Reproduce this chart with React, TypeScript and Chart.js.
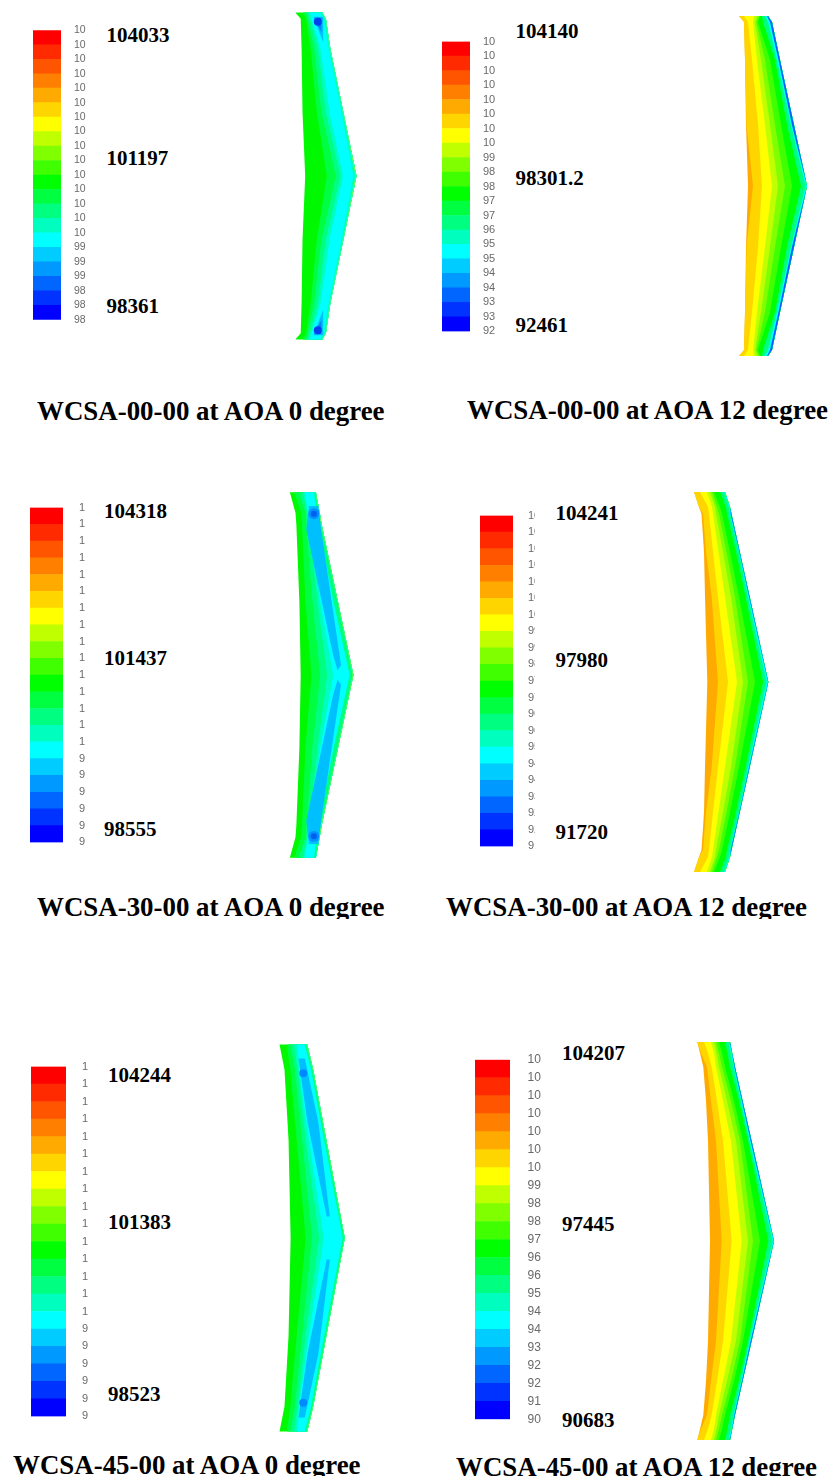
import React, { useEffect, useRef } from "react";
import { Chart, registerables } from "chart.js";

Chart.register(...registerables);

/* ---------- data ---------- */
const CAPTIONS = [
  "WCSA-00-00 at AOA 0 degree",
  "WCSA-00-00 at AOA 12 degree",
  "WCSA-30-00 at AOA 0 degree",
  "WCSA-30-00 at AOA 12 degree",
  "WCSA-45-00 at AOA 0 degree",
  "WCSA-45-00 at AOA 12 degree",
];
const VALUE_LABELS = [
  ["104033", "101197", "98361"],
  ["104140", "98301.2", "92461"],
  ["104318", "101437", "98555"],
  ["104241", "97980", "91720"],
  ["104244", "101383", "98523"],
  ["104207", "97445", "90683"],
];
// pressure level of every colour-bar boundary, low to high
const LEVELS_1 = [98361,98645,98928,99212,99495,99779,100063,100346,100630,100913,101197,101481,101764,102048,102331,102615,102899,103182,103466,103749,104033];
const LEVELS_2 = [92461,93045,93629,94213,94797,95381,95965,96549,97133,97717,98301,98885,99469,100053,100637,101221,101805,102389,102972,103556,104140];
const LEVELS_3 = [98555,98843,99131,99419,99708,99996,100284,100572,100860,101148,101437,101725,102013,102301,102589,102877,103166,103454,103742,104030,104318];
const LEVELS_4 = [91720,92346,92972,93598,94224,94850,95476,96102,96728,97354,97981,98607,99233,99859,100485,101111,101737,102363,102989,103615,104241];
const LEVELS_5 = [98523,98809,99095,99381,99667,99953,100239,100525,100811,101097,101384,101670,101956,102242,102528,102814,103100,103386,103672,103958,104244];
const LEVELS_6 = [90683,91359,92035,92712,93388,94064,94740,95416,96093,96769,97445,98121,98797,99474,100150,100826,101502,102178,102855,103531,104207];
const LEVELS = [LEVELS_1, LEVELS_2, LEVELS_3, LEVELS_4, LEVELS_5, LEVELS_6];
// band colours, low to high
const BAND_COLORS = ["#0000ff","#0033ff","#0066ff","#0099ff","#00ccff","#00ffff","#00ffbf","#00ff80","#00ff40","#00ff00","#40ff00","#80ff00","#bfff00","#ffff00","#ffd500","#ffaa00","#ff8000","#ff5500","#ff2a00","#ff0000"];

/* Wing contours: half-span stations (tip to apex, mirrored in the chart) and, for each
   contour line, its chordwise position at these stations. Last row = trailing outline. */
const WING1_SPAN = [167.5, 161, 130, 65, 0];
const WING1_LINES = [
  [292, 298, 299, 300, 303],
  [300, 304, 309, 316, 327],
  [304, 306, 313, 321, 337],
  [306, 308, 317, 326, 342],
  [308, 310, 320, 330, 345],
  [320, 323.5, 329, 343.5, 356.5],
  [321.5, 325.5, 330.5, 345, 359],
  [322, 326, 331, 345.5, 360],
];
const WING1_COLORS = ["#00f800", "#00ff40", "#00ff80", "#00ffbf", "#00ffff", "#00ffbf", "#80ff40"];
const WING1_PATCHES = [
  { color: "#00bfff", points: [[312, 163], [323, 163], [323, 137]] },
  { color: "#0080ff", points: [[313, 162], [321, 162], [321, 147]] },
];
const WING1_SPOTS = [{ x: 317, d: 158, r: 4, color: "#0040ee" }];

const WING2_SPAN = [170, 164, 126, 61, 0];
const WING2_LINES = [
  [739, 744, 745, 746, 748],
  [739, 744, 745, 746.5, 753],
  [744, 748, 752, 758, 762],
  [754, 753, 757, 765, 772],
  [757, 755, 761, 770, 778],
  [759, 756.5, 765, 775, 785],
  [760, 758, 770, 781, 792],
  [762, 763, 775, 787, 801],
  [765, 768, 777, 791, 805.5],
  [767, 770, 778.5, 792, 807],
  [768, 772, 780, 794, 807],
];
const WING2_COLORS = ["#ffaa00", "#ffd500", "#ffff00", "#bfff00", "#80ff00", "#40ff00", "#00ff00", "#00ff80", "#00ffff", "#0060ff"];

const WING3_SPAN = [188, 167, 155, 75, 0];
const WING3_LINES = [
  [285, 291.5, 292.5, 296, 297.5],
  [290, 298, 299, 303, 310],
  [295, 303, 304, 311, 320],
  [300, 305, 307, 317, 328],
  [302, 306, 309, 320, 335],
  [313, 316, 318, 335.5, 354],
  [314.5, 318.5, 321, 340, 357.5],
  [315, 319.5, 321.7, 340.6, 358.3],
];
const WING3_COLORS = ["#00f800", "#00ff40", "#00ff80", "#00ffbf", "#00ffff", "#00ff80", "#80ff40"];
const WING3_PATCHES = [
  { color: "#00bfff", points: [[307, 174], [318, 174], [321, 150], [344, 10], [340, 5], [335, 20], [304, 150]] },
];
const WING3_SPOTS = [
  { x: 312.7, d: 166, r: 5.5, color: "#0090ff" },
  { x: 312.7, d: 166, r: 3, color: "#0060ee" },
];

const WING4_SPAN = [190, 175, 168, 130, 85, 0];
const WING4_LINES = [
  [694, 699, 701.5, 704, 705, 707.3],
  [694, 699, 703, 706, 711.7, 718],
  [700, 708, 709, 713, 718, 728],
  [707, 712, 713, 718.5, 725, 737],
  [710, 715, 716, 723, 731, 743],
  [712, 717, 719, 726.5, 735, 748],
  [714, 720, 722, 730, 739, 755],
  [720, 726, 727, 736, 745.5, 763],
  [724, 729, 730, 738.8, 748, 766.5],
  [725, 730, 730.6, 739.3, 749, 768],
  [725, 730, 731.5, 739.8, 749.7, 768.3],
];
const WING4_COLORS = ["#ffaa00", "#ffd500", "#ffff00", "#bfff00", "#80ff00", "#40ff00", "#00ff00", "#00ff80", "#00ffff", "#0080ff"];

const WING5_SPAN = [197.5, 185, 172, 140, 100, 0];
const WING5_LINES = [
  [276, 278.7, 281.5, 283.5, 286, 288.3],
  [284, 286, 288, 291, 295, 305],
  [288, 290.5, 293, 296.5, 301, 312],
  [292, 294, 296, 300, 305, 320],
  [296, 296.8, 297.5, 302.5, 308.5, 325],
  [304, 307.5, 311, 317.4, 325.5, 346],
  [306, 309.4, 312.7, 319.2, 327.3, 347.8],
  [306.7, 310, 313.3, 319.8, 327.9, 348.3],
];
const WING5_COLORS = ["#00f800", "#00ff40", "#00ff80", "#00ffbf", "#00ffff", "#00ff80", "#80ff40"];
const WING5_PATCHES = [
  { color: "#00bfff", points: [[297, 183], [304, 183], [319, 118], [331.7, 22], [328.3, 22], [307, 118]] },
];
const WING5_SPOTS = [{ x: 302.3, d: 168, r: 4, color: "#0088ff" }];

const WING6_SPAN = [199, 188, 174, 140, 100, 0];
const WING6_LINES = [
  [697.3, 700, 703.3, 706, 708, 710],
  [697.3, 701, 707, 711, 716, 721.7],
  [704, 708, 711.7, 717, 723, 731.7],
  [711, 714, 716, 723, 731, 741.7],
  [714, 716.5, 719, 727, 736, 748],
  [716, 719, 722, 731, 740, 753],
  [719, 722, 725, 734, 743, 760],
  [725, 727.5, 730, 739, 748, 768.3],
  [728.5, 731, 733.5, 741, 749.5, 772.7],
  [729.5, 732, 734.3, 741.9, 750.6, 773.8],
  [730, 732.2, 735, 742.6, 751.6, 774],
];
const WING6_COLORS = ["#ffaa00", "#ffd500", "#ffff00", "#bfff00", "#80ff00", "#40ff00", "#00ff00", "#00ff80", "#00ffff", "#0070ff"];

const WINGS: any[] = [
  { span: WING1_SPAN, lines: WING1_LINES, colors: WING1_COLORS, patches: WING1_PATCHES, spots: WING1_SPOTS },
  { span: WING2_SPAN, lines: WING2_LINES, colors: WING2_COLORS, patches: [], spots: [] },
  { span: WING3_SPAN, lines: WING3_LINES, colors: WING3_COLORS, patches: WING3_PATCHES, spots: WING3_SPOTS },
  { span: WING4_SPAN, lines: WING4_LINES, colors: WING4_COLORS, patches: [], spots: [] },
  { span: WING5_SPAN, lines: WING5_LINES, colors: WING5_COLORS, patches: WING5_PATCHES, spots: WING5_SPOTS },
  { span: WING6_SPAN, lines: WING6_LINES, colors: WING6_COLORS, patches: [], spots: [] },
];

/* ---------- layout ---------- */
const BAR_LAYOUT = [
  { left: 33, right: 61, top: 20, bottom: 330, labelLeft: 74, clip: 90, font: 10.5 },
  { left: 441.5, right: 469, top: 31, bottom: 341.5, labelLeft: 482, clip: 500, font: 11 },
  { left: 29.5, right: 62.5, top: 493.5, bottom: 855.5, labelLeft: 78.5, clip: 84.5, font: 11 },
  { left: 479.5, right: 512.5, top: 502.5, bottom: 858.5, labelLeft: 527.5, clip: 534.5, font: 11 },
  { left: 31, right: 65.5, top: 1052.5, bottom: 1429.5, labelLeft: 81.5, clip: 87.5, font: 11 },
  { left: 475, right: 510, top: 1044, bottom: 1434.5, labelLeft: 527.5, clip: 545, font: 12 },
];
const WING_LAYOUT = [
  { left: 285, right: 365, mid: 175.5, half: 172 },
  { left: 732, right: 812, mid: 186, half: 175 },
  { left: 280, right: 363, mid: 675.3, half: 193 },
  { left: 689, right: 773, mid: 681.7, half: 195 },
  { left: 271, right: 353, mid: 1238.3, half: 202 },
  { left: 692, right: 779, mid: 1241, half: 204 },
];
const VALUE_POS = [
  { x: 106.5, ys: [35, 158, 306] },
  { x: 515.5, ys: [31, 178, 325] },
  { x: 104, ys: [510.5, 658, 829] },
  { x: 555.5, ys: [513, 660, 831.5] },
  { x: 108, ys: [1075, 1221.5, 1394] },
  { x: 562, ys: [1053, 1224, 1420] },
];
const CAPTION_POS = [
  { x: 37, y: 410.5, cut: 440 },
  { x: 467, y: 409.5, cut: 440 },
  { x: 37, y: 907, cut: 918.5 },
  { x: 446, y: 907, cut: 918.5 },
  { x: 13, y: 1465, cut: 1476 },
  { x: 456, y: 1466.5, cut: 1476 },
];

/* ---------- charts ---------- */
function ColorBar({ index }: { index: number }) {
  const ref = useRef<HTMLCanvasElement>(null);
  const L = BAR_LAYOUT[index];
  const levels = LEVELS[index];
  const pad = 9;
  useEffect(() => {
    const chart = new Chart(ref.current!, {
      type: "bar",
      data: {
        labels: ["Pressure"],
        datasets: BAND_COLORS.map((c, i) => ({
          label: String(levels[i]),
          data: [[levels[i], levels[i + 1]]],
          backgroundColor: c,
          borderWidth: 0,
          barPercentage: 1,
          categoryPercentage: 1,
          grouped: false,
        })),
      } as any,
      options: {
        animation: false,
        responsive: false,
        devicePixelRatio: 1,
        layout: { padding: { top: pad, bottom: pad, left: 0, right: 0 } },
        plugins: { legend: { display: false }, tooltip: { enabled: false } },
        scales: {
          x: { display: false },
          y: {
            position: "right",
            min: levels[0],
            max: levels[levels.length - 1],
            border: { display: false },
            grid: { display: false, drawTicks: false },
            afterBuildTicks: (axis: any) => {
              axis.ticks = levels.map((v) => ({ value: v }));
            },
            afterFit: (axis: any) => {
              axis.width = L.clip - L.right;
            },
            ticks: {
              autoSkip: false,
              padding: L.labelLeft - L.right,
              color: "#6a6a6a",
              font: { family: "Liberation Sans", size: L.font },
              callback: (v: any) => String(Math.floor(Number(v))).slice(0, 2),
            },
          },
        },
      } as any,
    });
    return () => chart.destroy();
  }, []);
  return (
    <canvas
      ref={ref}
      width={Math.round(L.clip - L.left)}
      height={Math.round(L.bottom - L.top + 2 * pad)}
      style={{ position: "absolute", left: L.left, top: L.top - pad, display: "block" }}
    />
  );
}

function Wing({ index }: { index: number }) {
  const ref = useRef<HTMLCanvasElement>(null);
  const L = WING_LAYOUT[index];
  const W = WINGS[index];
  useEffect(() => {
    const span: number[] = W.span;
    const last: number[] = W.lines[W.lines.length - 1];
    // one chordwise line walked from upper tip over the apex to lower tip
    const walk = (line: number[]) => [
      ...span.map((d, k) => ({ x: line[k], y: d })),
      ...span.slice(0, -1).map((d, k) => ({ x: line[k], y: -d })).reverse(),
    ];
    const datasets: any[] = [];
    let order = 1000;
    W.colors.forEach((color: string, i: number) => {
      datasets.push({
        label: "contour " + i,
        data: [...walk(W.lines[i]), ...walk(last).reverse()],
        showLine: true,
        fill: "shape",
        backgroundColor: color,
        borderWidth: 0,
        pointRadius: 0,
        order: order--,
      });
    });
    W.patches.forEach((p: any) => {
      [1, -1].forEach((sign) => {
        datasets.push({
          label: "low pressure",
          data: p.points.map(([x, d]: number[]) => ({ x, y: d * sign })),
          showLine: true,
          fill: "shape",
          backgroundColor: p.color,
          borderWidth: 0,
          pointRadius: 0,
          order: order--,
        });
      });
    });
    W.spots.forEach((s: any) => {
      datasets.push({
        label: "suction peak",
        data: [{ x: s.x, y: s.d }, { x: s.x, y: -s.d }],
        showLine: false,
        pointRadius: s.r,
        pointBackgroundColor: s.color,
        pointBorderWidth: 0,
        order: order--,
      });
    });
    const chart = new Chart(ref.current!, {
      type: "scatter",
      data: { datasets },
      options: {
        animation: false,
        responsive: false,
        devicePixelRatio: 1,
        layout: { padding: 0 },
        plugins: { legend: { display: false }, tooltip: { enabled: false } },
        scales: {
          x: { type: "linear", display: false, min: L.left, max: L.right },
          y: { type: "linear", display: false, min: -L.half, max: L.half },
        },
      } as any,
    });
    return () => chart.destroy();
  }, []);
  return (
    <canvas
      ref={ref}
      width={L.right - L.left}
      height={Math.round(2 * L.half)}
      style={{ position: "absolute", left: L.left, top: L.mid - L.half, display: "block", filter: "blur(0.7px)" }}
    />
  );
}

export default function App() {
  return (
    <div style={{ position: "absolute", left: 0, top: 0, width: 834, height: 1482, overflow: "hidden", background: "#fff", filter: "blur(0.45px)" }}>
      {CAPTIONS.map((cap, i) => (
        <React.Fragment key={i}>
          <ColorBar index={i} />
          <Wing index={i} />
          {VALUE_LABELS[i].map((t, j) => (
            <div
              key={j}
              style={{
                position: "absolute",
                left: VALUE_POS[i].x,
                top: VALUE_POS[i].ys[j] - 13,
                font: "bold 21px/26px 'Liberation Serif'",
                color: "#000",
                whiteSpace: "nowrap",
              }}
            >
              {t}
            </div>
          ))}
          <div
            style={{
              position: "absolute",
              left: CAPTION_POS[i].x,
              top: CAPTION_POS[i].y - 16,
              height: CAPTION_POS[i].cut - (CAPTION_POS[i].y - 16),
              overflow: "hidden",
              fontFamily: "'Liberation Serif'",
              fontWeight: "bold",
              fontSize: 26.9,
              lineHeight: "32px",
              color: "#000",
              whiteSpace: "nowrap",
            }}
          >
            {cap}
          </div>
        </React.Fragment>
      ))}
    </div>
  );
}
